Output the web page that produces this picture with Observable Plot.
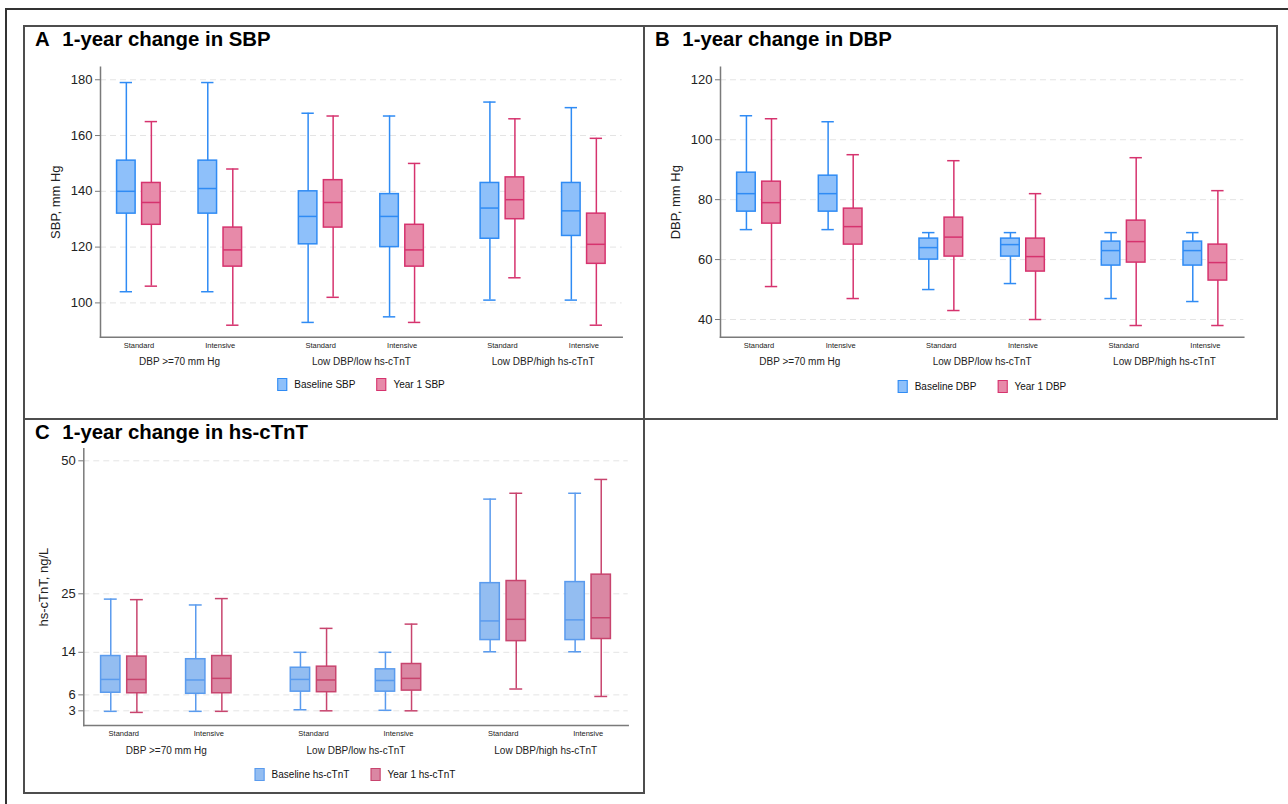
<!DOCTYPE html>
<html>
<head>
<meta charset="utf-8">
<script src="https://cdn.jsdelivr.net/npm/d3@7"></script>
<script src="https://cdn.jsdelivr.net/npm/@observablehq/plot@0.6"></script>
<style>
  body { margin: 0; background: #fff; font-family: "Liberation Sans", Arial, sans-serif; }
  #page { position: relative; width: 1288px; height: 804px; overflow: hidden; background: #fff; }
  .frame { position: absolute; border: 2px solid #333; box-sizing: border-box; }
  .panel { position: absolute; border: 2px solid #4d4d4d; box-sizing: border-box; }
  .title { position: absolute; font-weight: bold; font-size: 21px; line-height: 1; color: #000; white-space: nowrap; transform: scaleX(0.97); transform-origin: left top; }
  .title .lab { margin-right: 13px; }
  .plot { position: absolute; }
  .plot svg { overflow: visible; }
  .legend { position: absolute; display: flex; align-items: center; font-size: 10px; color: #111; transform: translateX(-50%); white-space: nowrap; line-height: 13px; }
  .legend .sw { width: 10px; height: 13px; box-sizing: border-box; border: 1.5px solid; margin-right: 7px; }
  .legend .item { display: flex; align-items: center; margin-right: 21px; }
  .legend .item:last-child { margin-right: 0; }
</style>
</head>
<body>
<div id="page">
  <div class="frame" style="left:5px;top:8px;width:1310px;height:830px"></div>
  <div class="panel" style="left:23px;top:25px;width:622px;height:395px"></div>
  <div class="panel" style="left:643px;top:25px;width:635px;height:395px"></div>
  <div class="panel" style="left:23px;top:418px;width:622px;height:376px"></div>

  <div class="title" style="left:35px;top:28px"><span class="lab">A</span>1-year change in SBP</div>
  <div class="title" style="left:655px;top:28px"><span class="lab">B</span>1-year change in DBP</div>
  <div class="title" style="left:35px;top:421px"><span class="lab">C</span>1-year change in hs-cTnT</div>

  <div id="plotA" class="plot" style="left:24px;top:50px"></div>
  <div id="plotB" class="plot" style="left:644px;top:50px"></div>
  <div id="plotC" class="plot" style="left:24px;top:435px"></div>

  <div id="legA" class="legend" style="left:361px;top:378px"></div>
  <div id="legB" class="legend" style="left:982px;top:380px"></div>
  <div id="legC" class="legend" style="left:355px;top:768px"></div>
</div>
<script>
// ---------- categories ----------
const groups = ["DBP >=70 mm Hg", "Low DBP/low hs-cTnT", "Low DBP/high hs-cTnT"];
const treatments = ["Standard", "Intensive"];

// each row: [lower whisker, Q1, median, Q3, upper whisker]
// order: g1-Standard, g1-Intensive, g2-Standard, g2-Intensive, g3-Standard, g3-Intensive
const sbpBaseline = [[104,132,140,151,179],[104,132,141,151,179],[93,121,131,140,168],[95,120,131,139,167],[101,123,134,143,172],[101,124,133,143,170]];
const sbpYear1    = [[106,128,136,143,165],[92,113,119,127,148],[102,127,136,144,167],[93,113,119,128,150],[109,130,137,145,166],[92,114,121,132,159]];

const dbpBaseline = [[70,76,82,89,108],[70,76,82,88,106],[50,60,64,67,69],[52,61,65,67,69],[47,58,63,66,69],[46,58,63,66,69]];
const dbpYear1    = [[51,72,79,86,107],[47,65,71,77,95],[43,61,67.5,74,93],[40,56,61,67,82],[38,59,66,73,94],[38,53,59,65,83]];

const tntBaseline = [[2.9,6.4,8.9,13.3,24],[2.9,6.2,8.8,12.7,22.9],[3.2,6.6,8.9,11.1,14],[3.1,6.6,8.7,10.8,14],[14.1,16.3,19.9,27,42.8],[14.1,16.3,20.1,27.2,43.9]];
const tntYear1    = [[2.7,6.3,8.9,13.2,23.9],[2.9,6.3,9.1,13.3,24.1],[3,6.5,8.8,11.3,18.5],[3,6.8,9.1,11.8,19.3],[7.1,16.1,20.2,27.4,43.9],[5.7,16.5,20.5,28.6,46.5]];

// tick labels and axis domains
const sbpTicks = [100, 120, 140, 160, 180];
const dbpTicks = [40, 60, 80, 100, 120];
const tntTicks = [3, 6, 14, 25, 50];
const sbpDomain = [87.7, 184.5];
const dbpDomain = [34.1, 124.2];
const tntDomain = [0.24, 52.26];

function rowsFrom(arr) {
  return arr.map((v, i) => ({
    group: groups[Math.floor(i / 2)],
    treatment: treatments[i % 2],
    low: v[0], q1: v[1], median: v[2], q3: v[3], high: v[4]
  }));
}

function boxPanel(opt) {
  const {series, domain, ticks, label, width, height, marginLeft, marginRight, marginTop, marginBottom, labelOffset} = opt;
  const pad = 0.13;
  const W = width - marginLeft - marginRight;
  const step = W / (groups.length - pad);
  const bw = (1 - pad) * step;
  const treatOff = 0.224 * step;   // half distance between Standard and Intensive
  const pairOff = 0.0688 * step;   // half distance between Baseline and Year 1
  const boxW = 0.102 * step;
  const capW = 0.068 * step;
  const boxInset = (bw - boxW) / 2;
  const capInset = (bw - capW) / 2;

  const marks = [
    Plot.ruleY(ticks, {stroke: "#e4e4e4", strokeWidth: 1, strokeDasharray: "6,4"})
  ];
  treatments.forEach((t, ti) => {
    const tdx = ti === 0 ? -treatOff : treatOff;
    series.forEach((s, k) => {
      const rows = rowsFrom(s.values).filter(d => d.treatment === t);
      const dx = tdx + (k === 0 ? -pairOff : pairOff);
      marks.push(
        Plot.ruleX(rows, {x: "group", y1: "low", y2: "high", stroke: s.stroke, strokeWidth: 1.5, dx}),
        Plot.tickY(rows, {x: "group", y: "low", stroke: s.stroke, strokeWidth: 1.5, insetLeft: capInset, insetRight: capInset, dx}),
        Plot.tickY(rows, {x: "group", y: "high", stroke: s.stroke, strokeWidth: 1.5, insetLeft: capInset, insetRight: capInset, dx}),
        Plot.barY(rows, {x: "group", y1: "q1", y2: "q3", fill: s.fill, stroke: s.stroke, strokeWidth: 1.5, insetLeft: boxInset, insetRight: boxInset, dx}),
        Plot.tickY(rows, {x: "group", y: "median", stroke: s.stroke, strokeWidth: 1.5, insetLeft: boxInset, insetRight: boxInset, dx})
      );
    });
    marks.push(Plot.axisX({tickSize: 0, tickPadding: 5, fontSize: 7.5, label: null, color: "#222",
      tickFormat: () => t, dx: tdx}));
  });
  marks.push(
    Plot.frame({anchor: "left", stroke: "#7a7a7a", strokeWidth: 1.5}),
    Plot.frame({anchor: "bottom", stroke: "#7a7a7a", strokeWidth: 1.5}),
    Plot.axisY({ticks, tickSize: 5, tickPadding: 3, fontSize: 13, stroke: "#7a7a7a", color: "#222",
      label, labelAnchor: "center", labelArrow: "none", labelOffset}),
    Plot.axisX({tickSize: 0, tickPadding: 21, fontSize: 10, label: null, color: "#222"})
  );

  return Plot.plot({
    width, height, marginLeft, marginRight, marginTop, marginBottom,
    style: {fontFamily: "Liberation Sans, Arial, sans-serif", background: "transparent", fontSize: "12.5px"},
    x: {domain: groups, paddingInner: pad, paddingOuter: 0, round: false},
    y: {domain},
    marks
  });
}

function legend(el, items) {
  el.innerHTML = items.map(it =>
    `<div class="item"><div class="sw" style="background:${it.fill};border-color:${it.stroke}"></div><span>${it.label}</span></div>`
  ).join("");
}

const blue = {fill: "#8ec0fa", stroke: "#2f8bf4"};
const pink = {fill: "#e78aa9", stroke: "#d6336e"};
const blueC = {fill: "#93bdf1", stroke: "#5a9bee"};
const pinkC = {fill: "#da87a3", stroke: "#c8446e"};

document.getElementById("plotA").append(boxPanel({
  series: [{values: sbpBaseline, ...blue}, {values: sbpYear1, ...pink}],
  domain: sbpDomain, ticks: sbpTicks, label: "SBP, mm Hg",
  width: 620, height: 325, marginLeft: 76, marginRight: 22.3, marginTop: 16.7, marginBottom: 38.3, labelOffset: 50
}));
document.getElementById("plotB").append(boxPanel({
  series: [{values: dbpBaseline, ...blue}, {values: dbpYear1, ...pink}],
  domain: dbpDomain, ticks: dbpTicks, label: "DBP, mm Hg",
  width: 633, height: 325, marginLeft: 76, marginRight: 33.7, marginTop: 16.7, marginBottom: 38.3, labelOffset: 50
}));
document.getElementById("plotC").append(boxPanel({
  series: [{values: tntBaseline, ...blueC}, {values: tntYear1, ...pinkC}],
  domain: tntDomain, ticks: tntTicks, label: "hs-cTnT, ng/L",
  width: 620, height: 325, marginLeft: 59.3, marginRight: 16.3, marginTop: 13.3, marginBottom: 35, labelOffset: 45
}));

legend(document.getElementById("legA"), [{label: "Baseline SBP", ...blue}, {label: "Year 1 SBP", ...pink}]);
legend(document.getElementById("legB"), [{label: "Baseline DBP", ...blue}, {label: "Year 1 DBP", ...pink}]);
legend(document.getElementById("legC"), [{label: "Baseline hs-cTnT", ...blueC}, {label: "Year 1 hs-cTnT", ...pinkC}]);
</script>
</body>
</html>
